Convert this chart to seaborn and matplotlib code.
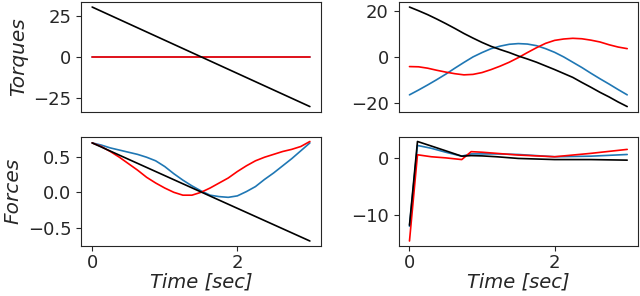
import numpy as np
import pandas as pd
import seaborn as sns
import matplotlib.pyplot as plt

# time grid for the smooth panels (0 .. 3 s, step 0.125)
t = [0, 0.125, 0.25, 0.375, 0.5, 0.625, 0.75, 0.875, 1.0, 1.125, 1.25, 1.375, 1.5,
     1.625, 1.75, 1.875, 2.0, 2.125, 2.25, 2.375, 2.5, 2.625, 2.75, 2.875, 3.0]
t_ends = [0, 3.0]

# torques, left panel (red flat at zero, black straight)
tq_zero = [0, 0]
tq_lin = [30.5, -30.5]

# torques, right panel
tq_blue = [-16.5, -14.4, -12.2, -9.9, -7.5, -4.9, -2.4, 0.0, 1.9, 3.6, 4.7, 5.5, 5.8,
           5.6, 4.9, 3.6, 2.0, 0.0, -2.3, -4.6, -7.1, -9.5, -11.8, -14.2, -16.5]
tq_red = [-4.2, -4.3, -4.9, -5.8, -6.6, -7.3, -7.8, -7.6, -6.8, -5.5, -4.0, -2.3, -0.3,
          1.9, 4.0, 5.9, 7.2, 7.8, 8.1, 7.9, 7.3, 6.5, 5.3, 4.3, 3.6]
tq_black = [21.7, 20.1, 18.4, 16.5, 14.5, 12.4, 10.2, 8.2, 6.3, 4.6, 3.2, 1.9, 0.4,
            -0.9, -2.3, -3.9, -5.5, -7.2, -8.9, -11.1, -13.2, -15.4, -17.4, -19.6, -21.6]

# forces, left panel
f_blue = [0.69, 0.66, 0.62, 0.59, 0.56, 0.53, 0.49, 0.44, 0.36, 0.26, 0.17, 0.09, 0.02,
          -0.04, -0.06, -0.07, -0.05, 0.01, 0.08, 0.18, 0.27, 0.37, 0.47, 0.58, 0.69]
f_red = [0.69, 0.64, 0.57, 0.49, 0.40, 0.31, 0.21, 0.13, 0.06, 0.0, -0.04, -0.04, 0.0,
         0.06, 0.13, 0.20, 0.29, 0.37, 0.44, 0.49, 0.53, 0.57, 0.60, 0.64, 0.71]
f_black = [0.69, -0.68]

# forces, right panel (finer near the start)
t_f = [0, 0.11, 0.3, 0.5, 0.72, 0.85, 1.0, 1.2, 1.5, 2.0, 2.5, 3.0]
ff_blue = [-12.0, 2.3, 1.8, 1.1, 0.4, 0.8, 0.8, 0.8, 0.7, 0.3, 0.4, 0.7]
ff_red = [-14.6, 0.65, 0.3, 0.1, -0.2, 1.2, 1.1, 0.9, 0.6, 0.3, 0.9, 1.6]
ff_black = [-11.8, 3.0, 2.2, 1.35, 0.4, 0.5, 0.45, 0.3, 0.0, -0.2, -0.2, -0.3]

sns.set_style("ticks")
plt.rcParams["font.family"] = ["DejaVu Sans"]

fig, axes = plt.subplots(2, 2, figsize=(6.4, 2.96), dpi=100)
fig.subplots_adjust(left=0.127, right=0.997, bottom=0.169, top=0.993, wspace=0.325, hspace=0.228)

lw = 1.2
colors = ["#1f77b4", "red", "black"]
panels = [
    (axes[0, 0], [(t_ends, tq_zero), (t_ends, tq_zero), (t_ends, tq_lin)]),
    (axes[0, 1], [(t, tq_blue), (t, tq_red), (t, tq_black)]),
    (axes[1, 0], [(t, f_blue), (t, f_red), (t_ends, f_black)]),
    (axes[1, 1], [(t_f, ff_blue), (t_f, ff_red), (t_f, ff_black)]),
]
for ax, series in panels:
    for (x, y), c in zip(series, colors):
        sns.lineplot(x=x, y=y, color=c, linewidth=lw, ax=ax, sort=False)
    ax.tick_params(labelsize=13)
    ax.set_xlim(-0.15, 3.15)

axes[0, 0].set_yticks([-25, 0, 25])
axes[0, 1].set_yticks([-20, 0, 20])
axes[1, 0].set_yticks([-0.5, 0.0, 0.5])
axes[1, 1].set_yticks([-10, 0])
for ax in axes[0]:
    ax.set_xticks([])
for ax in axes[1]:
    ax.set_xticks([0, 2])
    ax.tick_params(axis="x", pad=2.5)
    ax.set_xlabel("Time [sec]", fontsize=14, style="italic", labelpad=0)

axes[0, 0].set_ylabel("Torques", fontsize=14.5, style="italic")
axes[1, 0].set_ylabel("Forces", fontsize=14.5, style="italic")

plt.savefig("out.png")
